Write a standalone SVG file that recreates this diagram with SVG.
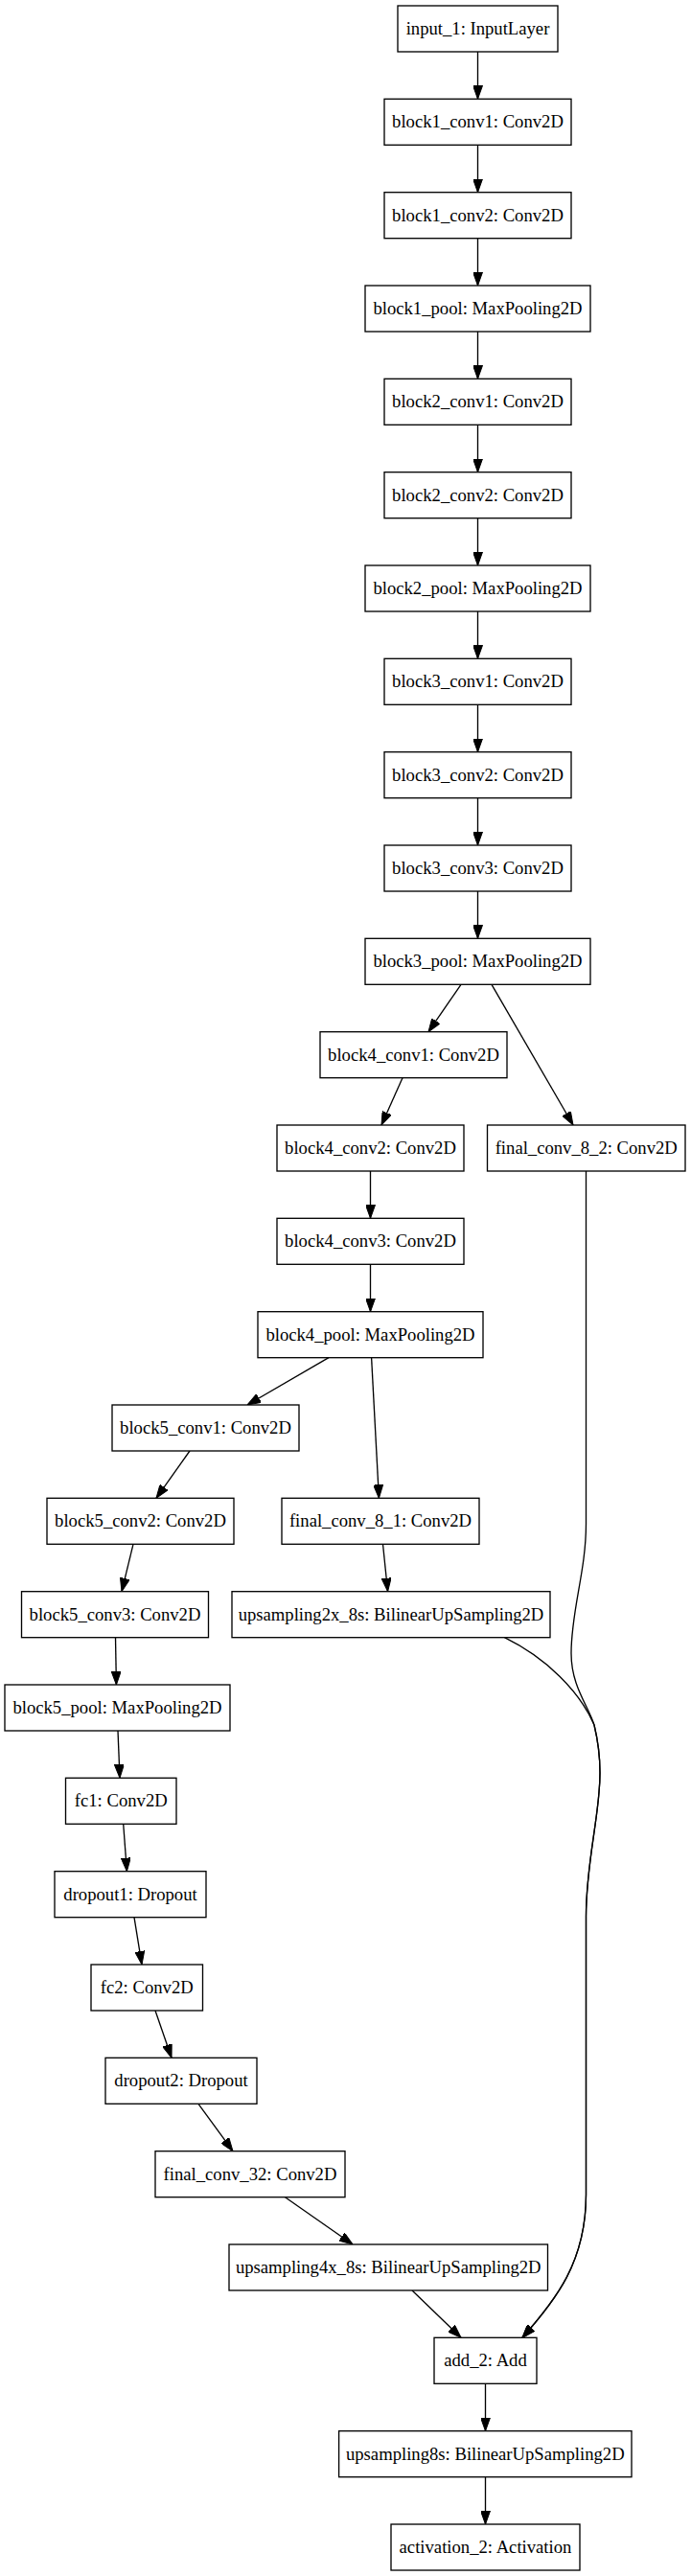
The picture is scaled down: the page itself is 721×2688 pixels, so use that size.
<svg xmlns="http://www.w3.org/2000/svg" width="721" height="2688" viewBox="0 0 721 2688">
<style>
.node rect{fill:#fff;stroke:#000;stroke-width:1.33}
.node text{font-family:"Liberation Serif","Times New Roman",serif;font-size:18.67px;text-anchor:middle;fill:#000}
.edges path{fill:none;stroke:#000;stroke-width:1.33;marker-end:url(#arr)}
</style>
<defs>
<marker id="arr" markerUnits="userSpaceOnUse" markerWidth="14" markerHeight="10" refX="14" refY="5" orient="auto">
<path d="M0,0 L14,5 L0,10 z" fill="#000" stroke="#000" stroke-width="1"/>
</marker>
</defs>
<rect width="721" height="2688" fill="#fff"/>
<g class="edges">
<path d="M498.5,54 L498.5,103.3"/>
<path d="M498.5,151.3 L498.5,200.7"/>
<path d="M498.5,248.7 L498.5,298"/>
<path d="M498.5,346 L498.5,395.3"/>
<path d="M498.5,443.3 L498.5,492.7"/>
<path d="M498.5,540.7 L498.5,590"/>
<path d="M498.5,638 L498.5,687.3"/>
<path d="M498.5,735.3 L498.5,784.7"/>
<path d="M498.5,832.7 L498.5,882"/>
<path d="M498.5,930 L498.5,979.3"/>
<path d="M481,1027.3 L447,1076.7"/>
<path d="M513,1027.3 L598,1174"/>
<path d="M420,1124.7 L398,1174"/>
<path d="M386.5,1222 L386.5,1271.3"/>
<path d="M386.5,1319.3 L386.5,1368.7"/>
<path d="M343,1416.7 L258,1466"/>
<path d="M387.6,1416.7 L395.4,1563.3"/>
<path d="M198,1514 L163,1563.3"/>
<path d="M139,1611.3 L127,1660.7"/>
<path d="M399.5,1611.3 L404.6,1660.7"/>
<path d="M120.5,1708.7 L121.4,1758"/>
<path d="M123,1806 L125,1855.3"/>
<path d="M128.7,1903.3 L132.4,1952.7"/>
<path d="M140,2000.7 L148,2050"/>
<path d="M162,2098 L179,2147.3"/>
<path d="M207,2195.3 L243,2244.7"/>
<path d="M297.5,2292.7 L368,2342"/>
<path d="M430,2390 L481,2439.3"/>
<path d="M611.5,1222 L611.5,1590 C611.5,1640 596,1680 596,1725 C596,1760 614,1780 620,1800 C626,1825 627,1850 625,1870 C622,1910 611.5,1950 611.5,2000 L611.5,2290 C611.5,2360 580,2400 545,2439.3"/>
<path d="M526.4,1708.7 C570,1730 605,1765 620,1800 C626,1825 627,1850 625,1870 C622,1910 611.5,1950 611.5,2000 L611.5,2290 C611.5,2360 580,2400 545,2439.3"/>
<path d="M506.5,2487.3 L506.5,2536.7"/>
<path d="M506.5,2584.7 L506.5,2634"/>
</g>
<g id="input_1" class="node"><rect x="415" y="6" width="167" height="48"/><text x="498.5" y="36">input_1: InputLayer</text></g>
<g id="block1_conv1" class="node"><rect x="401" y="103.3" width="195" height="48"/><text x="498.5" y="133.3">block1_conv1: Conv2D</text></g>
<g id="block1_conv2" class="node"><rect x="401" y="200.7" width="195" height="48"/><text x="498.5" y="230.7">block1_conv2: Conv2D</text></g>
<g id="block1_pool" class="node"><rect x="381" y="298" width="235" height="48"/><text x="498.5" y="328">block1_pool: MaxPooling2D</text></g>
<g id="block2_conv1" class="node"><rect x="401" y="395.3" width="195" height="48"/><text x="498.5" y="425.3">block2_conv1: Conv2D</text></g>
<g id="block2_conv2" class="node"><rect x="401" y="492.7" width="195" height="48"/><text x="498.5" y="522.7">block2_conv2: Conv2D</text></g>
<g id="block2_pool" class="node"><rect x="381" y="590" width="235" height="48"/><text x="498.5" y="620">block2_pool: MaxPooling2D</text></g>
<g id="block3_conv1" class="node"><rect x="401" y="687.3" width="195" height="48"/><text x="498.5" y="717.3">block3_conv1: Conv2D</text></g>
<g id="block3_conv2" class="node"><rect x="401" y="784.7" width="195" height="48"/><text x="498.5" y="814.7">block3_conv2: Conv2D</text></g>
<g id="block3_conv3" class="node"><rect x="401" y="882" width="195" height="48"/><text x="498.5" y="912">block3_conv3: Conv2D</text></g>
<g id="block3_pool" class="node"><rect x="381" y="979.3" width="235" height="48"/><text x="498.5" y="1009.3">block3_pool: MaxPooling2D</text></g>
<g id="block4_conv1" class="node"><rect x="334" y="1076.7" width="195" height="48"/><text x="431.5" y="1106.7">block4_conv1: Conv2D</text></g>
<g id="block4_conv2" class="node"><rect x="289" y="1174" width="195" height="48"/><text x="386.5" y="1204">block4_conv2: Conv2D</text></g>
<g id="final_conv_8_2" class="node"><rect x="508.5" y="1174" width="206.5" height="48"/><text x="611.75" y="1204">final_conv_8_2: Conv2D</text></g>
<g id="block4_conv3" class="node"><rect x="289" y="1271.3" width="195" height="48"/><text x="386.5" y="1301.3">block4_conv3: Conv2D</text></g>
<g id="block4_pool" class="node"><rect x="269" y="1368.7" width="235" height="48"/><text x="386.5" y="1398.7">block4_pool: MaxPooling2D</text></g>
<g id="block5_conv1" class="node"><rect x="117" y="1466" width="195" height="48"/><text x="214.5" y="1496">block5_conv1: Conv2D</text></g>
<g id="block5_conv2" class="node"><rect x="49" y="1563.3" width="195" height="48"/><text x="146.5" y="1593.3">block5_conv2: Conv2D</text></g>
<g id="final_conv_8_1" class="node"><rect x="294" y="1563.3" width="206" height="48"/><text x="397" y="1593.3">final_conv_8_1: Conv2D</text></g>
<g id="block5_conv3" class="node"><rect x="22.5" y="1660.7" width="195" height="48"/><text x="120" y="1690.7">block5_conv3: Conv2D</text></g>
<g id="upsampling2x_8s" class="node"><rect x="242" y="1660.7" width="332" height="48"/><text x="408" y="1690.7">upsampling2x_8s: BilinearUpSampling2D</text></g>
<g id="block5_pool" class="node"><rect x="5" y="1758" width="235" height="48"/><text x="122.5" y="1788">block5_pool: MaxPooling2D</text></g>
<g id="fc1" class="node"><rect x="68.5" y="1855.3" width="115.5" height="48"/><text x="126.25" y="1885.3">fc1: Conv2D</text></g>
<g id="dropout1" class="node"><rect x="57" y="1952.7" width="158" height="48"/><text x="136" y="1982.7">dropout1: Dropout</text></g>
<g id="fc2" class="node"><rect x="95" y="2050" width="116.5" height="48"/><text x="153.25" y="2080">fc2: Conv2D</text></g>
<g id="dropout2" class="node"><rect x="110" y="2147.3" width="158" height="48"/><text x="189" y="2177.3">dropout2: Dropout</text></g>
<g id="final_conv_32" class="node"><rect x="162" y="2244.7" width="198" height="48"/><text x="261" y="2274.7">final_conv_32: Conv2D</text></g>
<g id="upsampling4x_8s" class="node"><rect x="239" y="2342" width="332.5" height="48"/><text x="405.25" y="2372">upsampling4x_8s: BilinearUpSampling2D</text></g>
<g id="add_2" class="node"><rect x="453" y="2439.3" width="107" height="48"/><text x="506.5" y="2469.3">add_2: Add</text></g>
<g id="upsampling8s" class="node"><rect x="353.6" y="2536.7" width="305.4" height="48"/><text x="506.3" y="2566.7">upsampling8s: BilinearUpSampling2D</text></g>
<g id="activation_2" class="node"><rect x="408" y="2634" width="197" height="48"/><text x="506.5" y="2664">activation_2: Activation</text></g>
</svg>
